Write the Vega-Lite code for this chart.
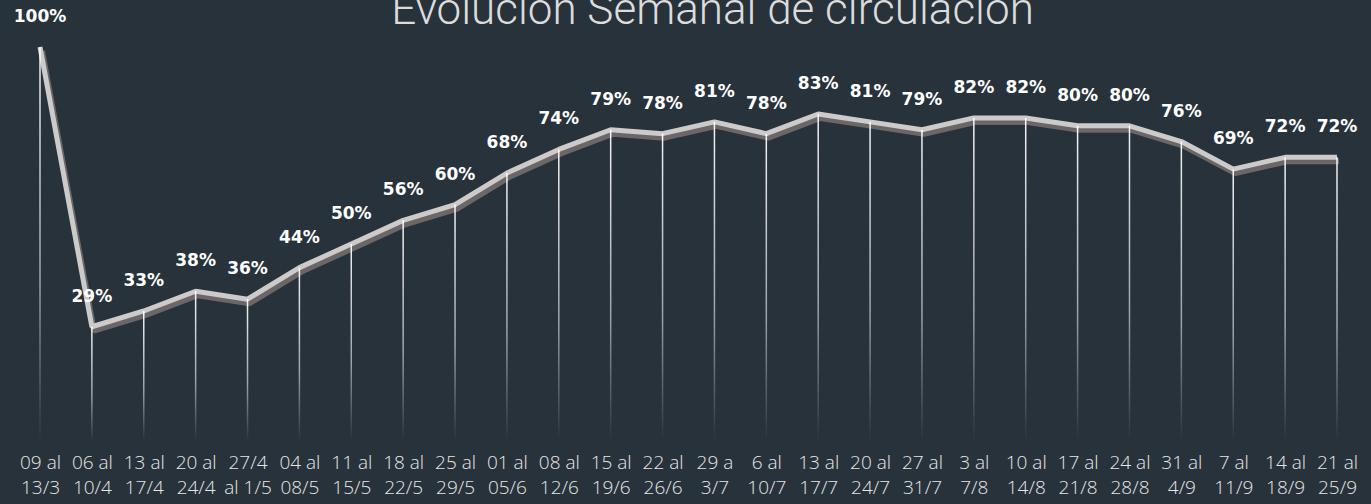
{
  "$schema": "https://vega.github.io/schema/vega-lite/v6.json",
  "autosize": {"type": "none"},
  "padding": {"left": 40, "top": 47, "right": 34, "bottom": 63},
  "width": 1297,
  "height": 394,
  "background": "#27323b",
  "config": {"view": {"stroke": null}},
  "title": {
    "text": "Evolución Semanal de circulación",
    "font": "Roboto",
    "fontWeight": 300,
    "fontSize": 44,
    "color": "#dcdcdc",
    "anchor": "middle",
    "frame": "group",
    "dx": 24,
    "dy": 60,
    "offset": 0,
    "baseline": "alphabetic"
  },
  "data": {
    "values": [
      {"semana": "09 al|13/3", "valor": 100, "etiqueta": "100%"},
      {"semana": "06 al|10/4", "valor": 29, "etiqueta": "29%"},
      {"semana": "13 al|17/4", "valor": 33, "etiqueta": "33%"},
      {"semana": "20 al|24/4", "valor": 38, "etiqueta": "38%"},
      {"semana": "27/4|al 1/5", "valor": 36, "etiqueta": "36%"},
      {"semana": "04 al|08/5", "valor": 44, "etiqueta": "44%"},
      {"semana": "11 al|15/5", "valor": 50, "etiqueta": "50%"},
      {"semana": "18 al|22/5", "valor": 56, "etiqueta": "56%"},
      {"semana": "25 al|29/5", "valor": 60, "etiqueta": "60%"},
      {"semana": "01 al|05/6", "valor": 68, "etiqueta": "68%"},
      {"semana": "08 al|12/6", "valor": 74, "etiqueta": "74%"},
      {"semana": "15 al|19/6", "valor": 79, "etiqueta": "79%"},
      {"semana": "22 al|26/6", "valor": 78, "etiqueta": "78%"},
      {"semana": "29 a|3/7", "valor": 81, "etiqueta": "81%"},
      {"semana": "6 al|10/7", "valor": 78, "etiqueta": "78%"},
      {"semana": "13 al|17/7", "valor": 83, "etiqueta": "83%"},
      {"semana": "20 al|24/7", "valor": 81, "etiqueta": "81%"},
      {"semana": "27 al|31/7", "valor": 79, "etiqueta": "79%"},
      {"semana": "3 al|7/8", "valor": 82, "etiqueta": "82%"},
      {"semana": "10 al|14/8", "valor": 82, "etiqueta": "82%"},
      {"semana": "17 al|21/8", "valor": 80, "etiqueta": "80%"},
      {"semana": "24 al|28/8", "valor": 80, "etiqueta": "80%"},
      {"semana": "31 al|4/9", "valor": 76, "etiqueta": "76%"},
      {"semana": "7 al|11/9", "valor": 69, "etiqueta": "69%"},
      {"semana": "14 al|18/9", "valor": 72, "etiqueta": "72%"},
      {"semana": "21 al|25/9", "valor": 72, "etiqueta": "72%"}
    ]
  },
  "encoding": {
    "x": {
      "field": "semana",
      "type": "ordinal",
      "sort": null,
      "scale": {"type": "point", "padding": 0},
      "axis": {
        "title": null,
        "domain": false,
        "ticks": false,
        "labelAngle": 0,
        "labelExpr": "split(datum.label, '|')",
        "labelFont": "Open Sans",
        "labelFontWeight": 300,
        "labelFontSize": 19,
        "labelLineHeight": 25,
        "labelPadding": 12,
        "labelColor": "#e6e6e6",
        "labelOverlap": false,
        "labelBound": false,
        "labelFlush": false
      }
    },
    "y": {
      "field": "valor",
      "type": "quantitative",
      "scale": {"domain": [0, 100]},
      "axis": null
    }
  },
  "layer": [
    {
      "mark": {"type": "line", "color": "#6b6767", "strokeWidth": 6, "xOffset": 2, "yOffset": 4, "strokeJoin": "bevel", "strokeCap": "butt"}
    },
    {
      "mark": {"type": "line", "color": "#cdcaca", "strokeWidth": 5, "strokeJoin": "bevel", "strokeCap": "butt"}
    },
    {
      "mark": {
        "type": "bar",
        "size": 1.5,
        "color": {
          "gradient": "linear",
          "x1": 0, "y1": 0, "x2": 0, "y2": 1,
          "stops": [
            {"offset": 0, "color": "rgba(255,255,255,0.95)"},
            {"offset": 0.6, "color": "rgba(255,255,255,0.55)"},
            {"offset": 1, "color": "rgba(255,255,255,0)"}
          ]
        }
      },
      "encoding": {"y2": {"datum": 0}}
    },
    {
      "mark": {"type": "text", "dy": -30, "font": "DejaVu Sans", "fontWeight": "bold", "fontSize": 17, "color": "#ffffff", "baseline": "middle"},
      "encoding": {"text": {"field": "etiqueta"}}
    }
  ]
}
